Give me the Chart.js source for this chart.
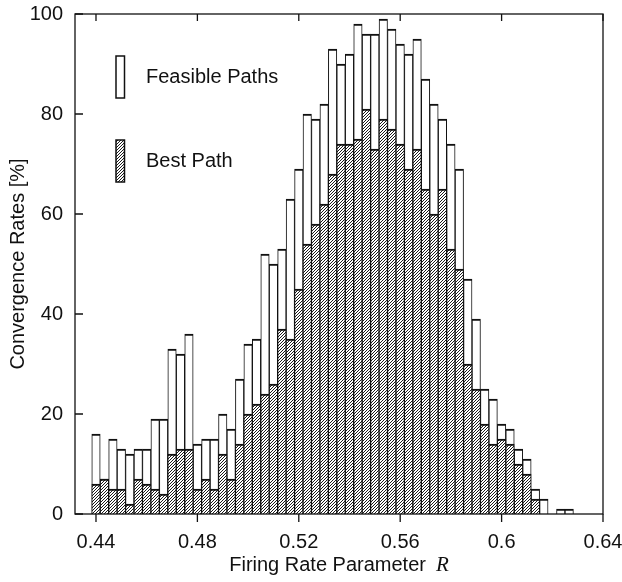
<!DOCTYPE html>
<html>
<head>
<meta charset="utf-8">
<script src="https://cdn.jsdelivr.net/npm/chart.js@4.4.0/dist/chart.umd.min.js"></script>
<style>
  html, body { margin: 0; padding: 0; background: #fff; }
  #wrap { width: 622px; height: 582px; position: relative; }
</style>
</head>
<body>
<div id="wrap"><canvas id="chart"></canvas></div>
<script>
// ---- data: bin centres of the firing rate parameter R (bin width 1/300) ----
const binCenters = [
  0.44000, 0.44333, 0.44667, 0.45000, 0.45333, 0.45667, 0.46000, 0.46333,
  0.46667, 0.47000, 0.47333, 0.47667, 0.48000, 0.48333, 0.48667, 0.49000,
  0.49333, 0.49667, 0.50000, 0.50333, 0.50667, 0.51000, 0.51333, 0.51667,
  0.52000, 0.52333, 0.52667, 0.53000, 0.53333, 0.53667, 0.54000, 0.54333,
  0.54667, 0.55000, 0.55333, 0.55667, 0.56000, 0.56333, 0.56667, 0.57000,
  0.57333, 0.57667, 0.58000, 0.58333, 0.58667, 0.59000, 0.59333, 0.59667,
  0.60000, 0.60333, 0.60667, 0.61000, 0.61333, 0.61667, 0.62000, 0.62333,
  0.62667
];

// convergence rate [%] to any feasible path
const feasiblePaths = [
  16, 7, 15, 13, 12, 13, 13, 19, 19, 33, 32, 36, 14, 15, 15, 20,
  17, 27, 34, 35, 52, 50, 53, 63, 69, 80, 79, 82, 93, 90, 92, 98,
  96, 96, 99, 97, 94, 92, 95, 87, 82, 79, 74, 69, 47, 39, 25, 23,
  18, 17, 13, 11, 5, 3, 0, 1, 1
];

// convergence rate [%] to the best path
const bestPath = [
  6, 7, 5, 5, 2, 7, 6, 5, 4, 12, 13, 13, 5, 7, 5, 12,
  7, 14, 20, 22, 24, 26, 37, 35, 45, 54, 58, 62, 68, 74, 74, 75,
  81, 73, 79, 77, 74, 69, 73, 65, 60, 65, 53, 49, 30, 25, 18, 14,
  15, 14, 10, 8, 3, 0, 0, 0, 0
];

const xTicks = [0.44, 0.48, 0.52, 0.56, 0.6, 0.64];
const yTicks = [0, 20, 40, 60, 80, 100];

const INK = '#111';
const SANS = '"Liberation Sans", Arial, Helvetica, sans-serif';

// diagonal hatch used for the "Best Path" bars
function makeHatch() {
  const c = document.createElement('canvas');
  c.width = 3; c.height = 3;
  const g = c.getContext('2d');
  g.fillStyle = '#fff';
  g.fillRect(0, 0, 3, 3);
  g.fillStyle = '#1a1a1a';
  for (let i = 0; i < 3; i++) g.fillRect(i, 2 - i, 1, 1);
  return g.createPattern(c, 'repeat');
}
const hatch = makeHatch();

// frame, inward ticks, in-plot legend and the x axis title
const decorations = {
  id: 'decorations',
  afterDraw(chart) {
    const { ctx, chartArea: a, scales: { x, y } } = chart;
    ctx.save();
    ctx.strokeStyle = INK;
    ctx.lineWidth = 1.3;
    ctx.strokeRect(a.left, a.top, a.right - a.left, a.bottom - a.top);

    ctx.beginPath();
    xTicks.forEach(v => {
      const px = x.getPixelForValue(v);
      ctx.moveTo(px, a.top); ctx.lineTo(px, a.top + 7);
      ctx.moveTo(px, a.bottom); ctx.lineTo(px, a.bottom + 8);
    });
    yTicks.forEach(v => {
      const py = y.getPixelForValue(v);
      ctx.moveTo(a.left, py); ctx.lineTo(a.left + 8, py);
    });
    ctx.stroke();

    // legend
    const bx = a.left + 41, bw = 8.5, bh = 42;
    const items = [
      { label: 'Feasible Paths', fill: '#fff', top: a.top + 42 },
      { label: 'Best Path',      fill: hatch,  top: a.top + 126 },
    ];
    ctx.font = '20px ' + SANS;
    ctx.textBaseline = 'middle';
    ctx.textAlign = 'left';
    items.forEach(it => {
      ctx.fillStyle = it.fill;
      ctx.fillRect(bx, it.top, bw, bh);
      ctx.lineWidth = 1.5;
      ctx.strokeRect(bx, it.top, bw, bh);
      ctx.fillStyle = INK;
      ctx.fillText(it.label, bx + 30, it.top + bh / 2);
    });

    // x title: sans text followed by an italic serif R
    const t1 = 'Firing Rate Parameter';
    ctx.font = '20px ' + SANS;
    const w1 = ctx.measureText(t1).width;
    ctx.font = 'italic 21px "Liberation Serif", "Times New Roman", serif';
    const w2 = ctx.measureText('R').width;
    const gap = 10;
    const cx = (a.left + a.right) / 2;
    const x0 = cx - (w1 + gap + w2) / 2;
    const base = 571;
    ctx.textBaseline = 'alphabetic';
    ctx.font = '20px ' + SANS;
    ctx.fillText(t1, x0, base);
    ctx.font = 'italic 21px "Liberation Serif", "Times New Roman", serif';
    ctx.fillText('R', x0 + w1 + gap, base);
    ctx.restore();
  }
};

Chart.defaults.font.family = SANS;
Chart.defaults.font.size = 20;
Chart.defaults.color = INK;

const toPoints = arr => arr.map((v, i) => ({ x: binCenters[i], y: v }));

new Chart(document.getElementById('chart'), {
  type: 'bar',
  data: {
    datasets: [
      {
        label: 'Best Path',
        data: toPoints(bestPath),
        backgroundColor: hatch,
        borderColor: INK,
        borderWidth: { top: 2, left: 1, right: 1, bottom: 0 },
        borderSkipped: 'start',
        grouped: false,
        order: 0,
      },
      {
        label: 'Feasible Paths',
        data: toPoints(feasiblePaths),
        backgroundColor: '#fff',
        borderColor: INK,
        borderWidth: { top: 2, left: 1, right: 1, bottom: 0 },
        borderSkipped: 'start',
        grouped: false,
        order: 1,
      },
    ],
  },
  options: {
    responsive: true,
    maintainAspectRatio: false,
    animation: false,
    barPercentage: 1,
    categoryPercentage: 1,
    layout: { padding: { top: 14, right: 19, bottom: 0, left: 0 } },
    plugins: {
      legend: { display: false },
      tooltip: { enabled: false },
    },
    scales: {
      x: {
        type: 'linear',
        offset: false,
        min: 0.43172,
        max: 0.64,
        grid: { display: false, drawTicks: true, tickLength: 8, offset: false },
        border: { display: false },
        ticks: {
          padding: 8,
          maxRotation: 0,
          callback: v => String(+v.toFixed(2)),
        },
        afterBuildTicks: s => { s.ticks = xTicks.map(v => ({ value: v })); },
        afterFit: s => { s.height = 68; s.paddingLeft = 0; s.paddingRight = 0; },
      },
      y: {
        min: 0,
        max: 100,
        grid: { display: false, drawTicks: false },
        border: { display: false },
        ticks: { padding: 12 },
        afterBuildTicks: s => { s.ticks = yTicks.map(v => ({ value: v })); },
        afterFit: s => { s.width = 75; s.paddingTop = 0; s.paddingBottom = 0; },
        title: {
          display: true,
          text: 'Convergence Rates [%]',
          font: { size: 20 },
          padding: { top: 6, bottom: 0 },
        },
      },
    },
  },
  plugins: [decorations],
});
</script>
</body>
</html>
